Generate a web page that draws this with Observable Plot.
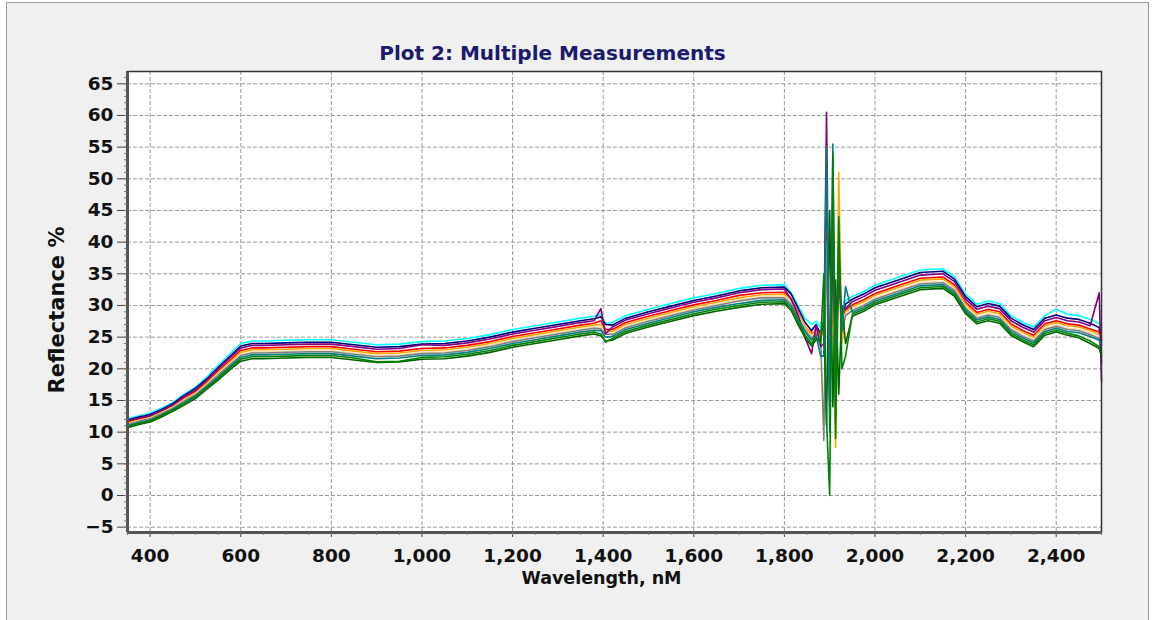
<!DOCTYPE html>
<html><head><meta charset="utf-8">
<script src="https://cdn.jsdelivr.net/npm/d3@7"></script>
<script src="https://cdn.jsdelivr.net/npm/@observablehq/plot@0.6"></script>
<style>
html,body{margin:0;padding:0;background:#fff;}
#wrap{position:relative;width:1153px;height:620px;overflow:hidden;}
#panel{position:absolute;left:6px;top:2px;width:1141px;height:700px;border:1px solid #9a9a9a;background:#f0f0f0;}
#chart{position:absolute;left:0;top:0;}
</style></head><body><div id="wrap"><div id="panel"></div><div id="chart"></div></div>
<script>
const wavelengths = [350,375,400,425,450,475,500,525,550,575,600,625,650,700,750,800,850,900,950,1000,1050,1100,1150,1200,1250,1300,1350,1380,1395,1405,1420,1450,1500,1550,1600,1650,1700,1750,1800,1815,1830,1845,1860,1870,1880,1887,1893,1900,1907,1913,1920,1927,1935,1950,1975,2000,2050,2100,2150,2175,2200,2225,2250,2275,2300,2325,2350,2375,2400,2425,2450,2475,2495,2500];

const cyan = [12.1,12.6,13.0,13.8,14.7,16.0,17.1,18.7,20.5,22.3,
 24.0,24.4,24.4,24.5,24.6,24.6,24.2,23.8,23.9,24.3,
 24.4,24.8,25.4,26.2,26.8,27.4,28.0,28.3,28.6,27.2,
 27.3,28.4,29.4,30.3,31.2,31.9,32.7,33.2,33.3,32.0,
 30.0,28.0,27.0,27.5,26.5,30,40,18,50,25,
 38,27,30.8,31.4,32.2,33.2,34.4,35.6,35.8,34.6,
 31.8,30.2,30.7,30.3,28.4,27.4,26.6,28.4,29.4,28.6,
 28.4,27.8,27.2,26.5];
const navy = [11.9,12.4,12.8,13.6,14.5,15.8,16.9,18.4,20.2,21.9,
 23.6,24.0,24.0,24.1,24.2,24.2,23.8,23.4,23.5,23.9,
 24.0,24.4,25.0,25.8,26.4,27.0,27.6,27.9,28.2,27.0,
 26.9,28.0,29.0,29.9,30.8,31.5,32.3,32.8,32.9,31.8,
 29.6,27.4,26.0,27.0,25.5,28,48,15,45,20,
 35,28,30.2,31.0,31.8,32.8,34.0,35.2,35.4,34.2,
 31.4,29.8,30.3,29.9,28.0,27.0,26.2,28.0,28.5,28.0,
 27.8,27.2,26.5,21.0];
const purple = [11.8,12.2,12.6,13.4,14.3,15.6,16.6,18.2,20.0,21.7,
 23.3,23.7,23.7,23.8,23.9,23.9,23.5,23.1,23.2,23.8,
 23.7,24.1,24.7,25.5,26.1,26.7,27.3,27.6,29.5,25.5,
 26.6,27.7,28.7,29.6,30.5,31.2,32.0,32.5,32.6,31.0,
 28.5,25.0,22.4,26.9,23.5,24,60.5,14,40,22,
 34,29,29.5,30.6,31.4,32.4,33.6,34.8,35.0,33.8,
 31.0,29.4,29.9,29.5,27.6,26.6,25.8,27.6,28.1,27.6,
 27.4,26.8,32.0,18.0];
const red = [11.6,12.1,12.5,13.3,14.2,15.4,16.4,17.9,19.7,21.3,
 22.9,23.3,23.3,23.4,23.5,23.5,23.1,22.7,22.8,23.2,
 23.3,23.7,24.3,25.1,25.7,26.3,26.9,27.2,27.6,26.2,
 26.2,27.3,28.3,29.2,30.1,30.8,31.6,32.0,32.1,31.0,
 29.0,26.5,25.6,26.0,25.5,27,42,20,38,24,
 33,28,29.3,30.1,30.9,31.9,33.1,34.3,34.5,33.3,
 30.5,28.9,29.4,29.0,27.1,26.1,25.3,27.1,27.6,27.1,
 26.9,26.3,25.8,24.5];
const orange = [11.4,11.9,12.3,13.1,14.0,15.2,16.2,17.7,19.4,21.0,
 22.6,23.0,23.0,23.1,23.2,23.2,22.8,22.4,22.5,22.9,
 23.0,23.4,24.0,24.8,25.4,26.0,26.6,26.9,27.0,26.0,
 25.9,27.0,28.0,28.9,29.8,30.5,31.2,31.7,31.8,30.8,
 28.8,26.8,25.4,26.2,25.0,26,38,22,30,7.6,
 51,24,29.0,29.8,30.6,31.6,32.8,34.0,34.2,33.0,
 30.2,28.6,29.1,28.7,26.8,25.8,25.0,26.8,27.3,26.8,
 26.6,26.0,25.4,24.8];
const wheat = [11.3,11.8,12.2,13.0,13.9,15.0,16.0,17.5,19.2,20.8,
 22.3,22.7,22.7,22.8,22.9,22.9,22.5,22.1,22.2,22.6,
 22.7,23.1,23.7,24.5,25.1,25.7,26.3,26.6,26.6,25.7,
 25.6,26.7,27.7,28.6,29.5,30.2,30.9,31.4,31.5,30.4,
 28.4,26.4,25.0,25.8,24.6,30,35,20,42,18,
 30,27,28.6,29.4,30.2,31.2,32.4,33.6,33.8,32.6,
 29.8,28.2,28.7,28.3,26.4,25.4,24.6,26.4,26.9,26.4,
 26.2,25.6,25.0,25.5];
const grey = [11.2,11.7,12.1,12.9,13.8,14.9,15.9,17.4,19.0,20.6,
 22.1,22.5,22.5,22.6,22.7,22.7,22.3,21.9,22.0,22.4,
 22.5,22.9,23.5,24.3,24.9,25.5,26.1,26.4,26.3,25.5,
 25.4,26.5,27.5,28.4,29.3,30.0,30.7,31.2,31.2,30.2,
 28.2,26.2,24.8,25.6,25.0,8.7,40,16,44,12,
 36,26,28.4,29.2,30.0,31.0,32.2,33.4,33.6,32.4,
 29.6,28.0,28.5,28.1,26.2,25.2,24.4,26.2,26.7,26.2,
 26.0,25.4,24.8,22.0];
const teal = [11.0,11.5,11.9,12.7,13.6,14.7,15.7,17.2,18.7,20.3,
 21.8,22.2,22.2,22.3,22.4,22.4,22.0,21.6,21.7,22.1,
 22.2,22.6,23.2,24.0,24.6,25.2,25.8,26.1,26.0,25.0,
 25.1,26.2,27.2,28.1,29.0,29.7,30.3,30.8,30.9,29.8,
 27.9,25.9,24.5,25.3,22.0,22,55,10,55.5,15,
 40,26,33.0,28.9,29.7,30.7,31.9,33.1,33.3,32.1,
 29.3,27.7,28.2,27.8,25.9,24.9,24.1,25.9,26.4,25.9,
 25.7,25.1,24.5,23.8];
const green = [10.9,11.4,11.8,12.6,13.5,14.5,15.5,17.0,18.5,20.1,
 21.5,21.9,21.9,22.0,22.1,22.1,21.7,21.1,21.2,21.8,
 21.9,22.3,22.9,23.7,24.3,24.9,25.5,25.8,25.5,24.2,
 24.8,25.9,26.9,27.8,28.7,29.4,30.0,30.5,30.6,29.4,
 27.4,25.4,24.0,25.0,24.0,35,12,0,54,9,
 44,20,22.0,28.6,29.4,30.4,31.6,32.8,33.0,31.8,
 29.0,27.4,27.9,27.5,25.6,24.6,23.8,25.6,26.1,25.6,
 25.2,24.4,23.5,22.5];
const darkgreen = [10.7,11.2,11.6,12.4,13.3,14.3,15.3,16.8,18.2,19.8,
 21.2,21.6,21.6,21.7,21.8,21.8,21.4,21.0,21.1,21.5,
 21.6,22.0,22.6,23.4,24.0,24.6,25.2,25.5,25.2,24.4,
 24.5,25.6,26.6,27.5,28.4,29.1,29.7,30.2,30.3,29.2,
 27.0,25.0,23.6,24.6,24.5,28,11,45,14,34,
 16,30,24.0,28.3,29.1,30.1,31.3,32.5,32.7,31.5,
 28.7,27.1,27.6,27.2,25.3,24.3,23.5,25.3,25.8,25.3,
 24.9,24.0,23.2,22.0];

const seriesNames = ["cyan","navy","red","orange","wheat","grey","purple","darkgreen","teal","green"];
const seriesColors = ["#3cb4e6","#1f2d86","#e03c31","#f39c34","#eed9a6","#a3a3a3","#6a2c91","#2f5e35","#17a99b","#2e9d3a"];
const seriesValues = [cyan,navy,red,orange,wheat,grey,purple,darkgreen,teal,green];

const xTicks = [400,600,800,1000,1200,1400,1600,1800,2000,2200,2400];
const yTicks = [-5,0,5,10,15,20,25,30,35,40,45,50,55,60,65];
const xMinor = d3.range(350, 2501, 50);
const yMinor = d3.range(-5, 67, 1);

const titleText = "Plot 2: Multiple Measurements";
const xLabel = "Wavelength, nM";
const yLabel = "Reflectance %";

const rows = [];
seriesNames.forEach((s, i) => {
  seriesValues[i].forEach((v, j) => rows.push({s, w: wavelengths[j], v}));
});

const chart = Plot.plot({
  width: 1153, height: 620,
  marginLeft: 127, marginRight: 52, marginTop: 71, marginBottom: 88,
  style: {background: "transparent", fontFamily: "DejaVu Sans", fontWeight: "bold", color: "#111"},
  x: {domain: [350, 2500], label: null},
  y: {domain: [-5.84, 66.94], label: null},
  color: {domain: seriesNames, range: seriesColors},
  marks: [
    Plot.frame({fill: "white", stroke: null}),
    Plot.gridX(xTicks, {stroke: "#9a9a9a", strokeOpacity: 1, strokeDasharray: "4,2"}),
    Plot.gridY(yTicks, {stroke: "#9a9a9a", strokeOpacity: 1, strokeDasharray: "4,2"}),
    Plot.line(rows, {x: "w", y: "v", z: "s", stroke: "s", strokeWidth: 1.6}),
    Plot.frame({stroke: "#333", strokeWidth: 1.5}),
    Plot.ruleX([350], {stroke: "#555", strokeWidth: 3}),
    Plot.ruleY([-5.84], {stroke: "#555", strokeWidth: 3}),
    Plot.axisX(xTicks, {tickSize: 5, tickPadding: 11, fontSize: 18.5, tickFormat: d3.format(","), label: null, stroke: "#444", fill: "#111"}),
    Plot.axisX(xMinor, {tickSize: 3, fill: "none", label: null, stroke: "#777"}),
    Plot.axisY(yTicks, {tickSize: 10, tickPadding: 4, fontSize: 18.5, label: null, stroke: "#444", fill: "#111"}),
    Plot.axisY(yMinor, {tickSize: 3, fill: "none", label: null, stroke: "#777"}),
    Plot.text([titleText], {frameAnchor: "top", dy: -26, dx: -62, fontSize: 20, fill: "#1b1b6e"}),
    Plot.text([xLabel], {frameAnchor: "bottom", dy: 51, dx: -13, fontSize: 17.5, fill: "#111"}),
    Plot.text([yLabel], {frameAnchor: "left", textAnchor: "middle", dx: -70, dy: 8, rotate: -90, fontSize: 21, fill: "#111"})
  ]
});
document.getElementById("chart").appendChild(chart);
</script></body></html>
